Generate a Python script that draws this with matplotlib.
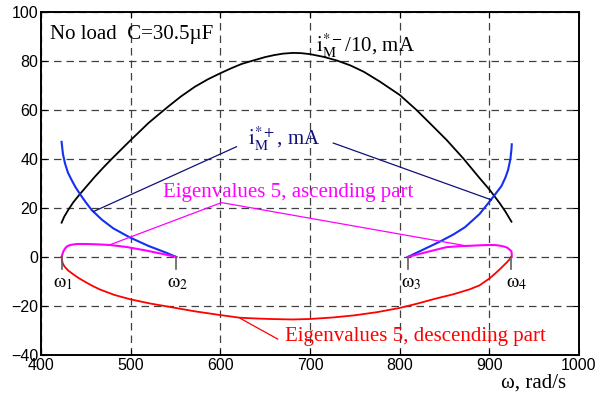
import matplotlib
matplotlib.use("Agg")
import matplotlib.pyplot as plt

plt.rcParams['mathtext.fontset'] = 'stix'

# black arch: i_M*- / 10
w_black = [423, 426, 430.4, 436, 443.5, 451, 460.2, 469, 478.8, 489, 500.3, 510, 519.6, 530, 541.9, 556,
           571.7, 586, 600, 612, 623.8, 638.6, 650, 660, 670, 681, 690, 700, 715, 730, 745, 760, 777.9,
           800.2, 818.8, 833.7, 852.3, 870.8, 889.4, 900.6, 911.7, 918, 924.7]
i_minus = [14, 16.5, 19.2, 22.3, 25.7, 28.9, 32.8, 36.3, 40, 43.7, 47.8, 51.2, 54.6, 57.8, 61.4, 65.5,
           69.5, 72.5, 75, 77, 78.8, 80.4, 81.6, 82.4, 83, 83.3, 83.2, 82.8, 81.7, 80.2, 78.2, 75.6, 71.6,
           66.1, 60, 54.6, 47.8, 40.3, 32.1, 27.3, 21.9, 18.5, 14.4]

# blue branches: i_M*+
w_blue_l = [423, 424.5, 426.8, 430, 434.2, 438.5, 443.5, 450, 456.5, 468, 480.6, 499, 520, 540, 551]
i_plus_l = [47, 42, 38.2, 34.5, 31.4, 28.5, 25.7, 22.3, 19.2, 15.2, 11.7, 8, 4.5, 1.7, 0]
w_blue_r = [809, 825, 845, 860, 873, 889, 900, 907, 913.6, 918, 920.9, 923.5, 924.7, 925]
i_plus_r = [0, 2.8, 6.3, 9.2, 12.2, 17.5, 22.5, 25.8, 29, 32.5, 35.5, 40, 44, 46]

# magenta: eigenvalues 5, ascending part
w_asc_l = [423, 424, 425, 426.5, 428.6, 431, 434, 440, 450, 460, 477, 495, 515, 535, 551]
asc_l = [0, 1.3, 2.3, 3.3, 4.2, 4.7, 5, 5.3, 5.3, 5.2, 4.9, 4.1, 2.8, 1.3, 0]
w_asc_r = [809, 830, 852, 866, 880, 891, 900.6, 906, 912, 917, 920, 922, 924, 924.7, 925, 925]
asc_r = [0, 2, 4, 4.4, 4.6, 4.8, 4.9, 4.9, 4.6, 4.2, 3.8, 3.2, 2.6, 2.2, 1, 0]

# red: eigenvalues 5, descending part
w_desc = [423, 423.5, 424.5, 426.5, 430, 435.7, 442, 450, 458, 466, 482, 500, 522, 544, 572, 600, 622, 640, 655,
          680, 700, 725, 750, 775, 800, 820, 840, 860, 878, 889, 900, 907, 912, 917, 920, 923, 924]
desc = [0, -1.5, -2.8, -4, -5.4, -7, -8.6, -10.3, -11.9, -13.3, -15.5, -17.3, -19, -20.4, -22.2, -23.7, -24.8,
        -25.1, -25.3, -25.5, -25.3, -24.7, -23.8, -22.5, -20.8, -19, -17, -15.2, -13.2, -11.6, -8.8, -6.6, -4.9,
        -3.1, -2, -0.8, 0]

w_marks = [423, 551, 809, 924]
mark_labels = [r'$\mathrm{\omega_1}$', r'$\mathrm{\omega_2}$', r'$\mathrm{\omega_3}$', r'$\mathrm{\omega_4}$']
mark_label_x = [424.5, 552, 812.5, 930]

fig = plt.figure(figsize=(5.99, 3.93), dpi=100)
ax = fig.add_axes([0.0684, 0.0967, 0.8982, 0.8728])

ax.plot(w_black, i_minus, color='black', lw=1.3)
ax.plot(w_blue_l, i_plus_l, color='#1430f0', lw=1.5)
ax.plot(w_blue_r, i_plus_r, color='#1430f0', lw=1.5)
ax.plot(w_asc_l, asc_l, color='#ff00ff', lw=1.5)
ax.plot(w_asc_r, asc_r, color='#ff00ff', lw=1.5)
ax.plot(w_desc, desc, color='#ff0000', lw=1.3)

# omega markers
for w, lab, xl in zip(w_marks, mark_labels, mark_label_x):
    ax.plot([w, w], [0, -5], color='#606060', lw=1.2)
    ax.text(xl, -10.5, lab, fontsize=14, ha='center', va='center')

# leader lines
ax.plot([618, 458.3], [45, 18.5], color='#10107a', lw=0.9)
ax.plot([726, 902.4], [46.5, 23.3], color='#10107a', lw=0.9)
ax.plot([477, 601.4, 875], [5, 22.2, 4.5], color='#ff00ff', lw=0.9)
ax.plot([622, 664], [-25, -33.5], color='#ff0000', lw=0.9)

serif = ['Liberation Serif', 'DejaVu Serif']
ax.text(410, 91, 'No load  C=30.5\u00b5F', fontsize=15, family=serif, va='center')
ax.text(707, 83.7, r'$\mathrm{i_M^{*-}}$/10, mA', fontsize=15, family=serif, va='baseline')
ax.text(631, 45.7, r'$\mathrm{i_M^{*+}}$, mA', fontsize=15, family=serif, va='baseline', color='#10107a')
ax.text(536, 26.5, 'Eigenvalues 5, ascending part', fontsize=15, family=serif, va='center', color='#ff00ff')
ax.text(672, -32.6, 'Eigenvalues 5, descending part', fontsize=15, family=serif, va='center', color='#ff0000')
ax.text(0.916, -0.082, '\u03c9, rad/s', fontsize=15, family=serif, ha='center', va='center',
        transform=ax.transAxes)

ax.set_xlim(400, 1000)
ax.set_ylim(-40, 100)
ax.set_xticks(range(400, 1001, 100))
ax.set_yticks(range(-40, 101, 20))
ax.grid(True, color='#404040', lw=0.9, linestyle=(0, (6, 4)))
ax.tick_params(direction='in', length=4, top=True, right=True, labelsize=11.5, pad=2)
for lab in ax.get_xticklabels() + ax.get_yticklabels():
    lab.set_family('Liberation Sans')
for s in ax.spines.values():
    s.set_linewidth(1.4)

fig.savefig('out.png', dpi=100)
